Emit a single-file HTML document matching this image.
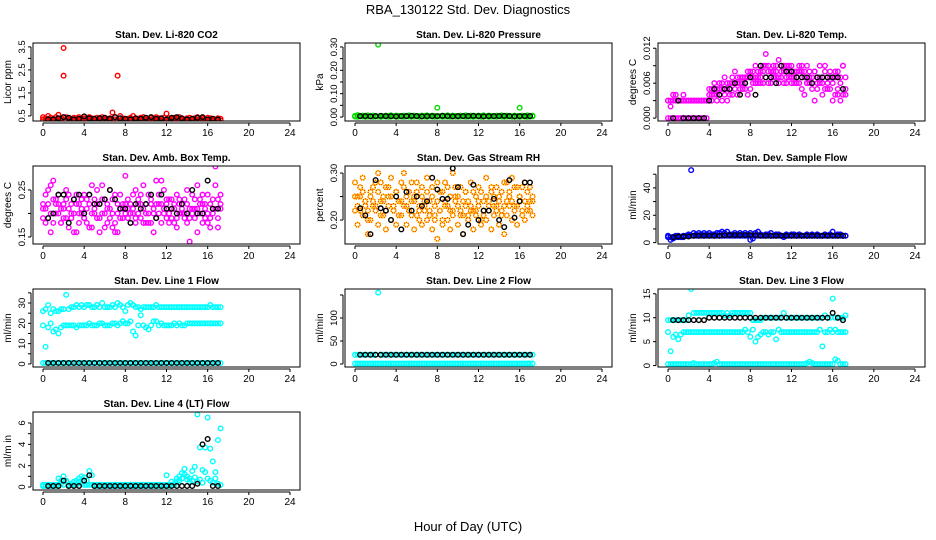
<!DOCTYPE html>
<html><head><meta charset="utf-8"><style>
html,body{margin:0;padding:0;background:#fff;}
svg{display:block;font-family:"Liberation Sans",Arial,sans-serif;}
</style></head><body>
<svg id="chart" width="936" height="540" viewBox="0 0 936 540">
<text x="468" y="14" text-anchor="middle" font-size="13">RBA_130122  Std. Dev. Diagnostics</text>
<text x="468" y="531" text-anchor="middle" font-size="13">Hour of Day (UTC)</text>
</svg>
<script>
const H=[0,0.25,0.5,0.75,1,1.25,1.5,1.75,2,2.25,2.5,2.75,3,3.25,3.5,3.75,4,4.25,4.5,4.75,5,5.25,5.5,5.75,6,6.25,6.5,6.75,7,7.25,7.5,7.75,8,8.25,8.5,8.75,9,9.25,9.5,9.75,10,10.25,10.5,10.75,11,11.25,11.5,11.75,12,12.25,12.5,12.75,13,13.25,13.5,13.75,14,14.25,14.5,14.75,15,15.25,15.5,15.75,16,16.25,16.5,16.75,17,17.25];
const HB=[0.5,1,1.5,2,2.5,3,3.5,4,4.5,5,5.5,6,6.5,7,7.5,8,8.5,9,9.5,10,10.5,11,11.5,12,12.5,13,13.5,14,14.5,15,15.5,16,16.5,17];
const xTicks=[0,4,8,12,16,20,24];

const co2A=[0.45,0.40,0.50,0.42,0.38,0.45,0.55,0.40,2.25,0.45,0.40,0.38,0.42,0.40,0.45,0.38,0.40,0.42,0.45,0.40,0.38,0.42,0.40,0.45,0.40,0.38,0.40,0.65,0.45,2.25,0.50,0.40,0.20,0.38,0.42,0.50,0.40,0.38,0.42,0.45,0.40,0.38,0.42,0.40,0.45,0.40,0.38,0.42,0.60,0.40,0.38,0.42,0.40,0.45,0.38,0.35,0.40,0.42,0.35,0.40,0.45,0.38,0.40,0.35,0.42,0.40,0.38,0.35,0.40,0.38];
const co2B=[0.35,0.32,0.35,0.30,0.33,0.35,0.30,0.32,3.45,0.33,0.30,0.35,0.32,0.30,0.33,0.35,0.30,0.32,0.33,0.35,0.30,0.33,0.32,0.35,0.30,0.33,0.32,0.30,0.35,0.33,0.30,0.32,0.35,0.30,0.33,0.32,0.35,0.30,0.33,0.32,0.30,0.35,0.32,0.30,0.33,0.35,0.30,0.32,0.33,0.30,0.35,0.32,0.30,0.33,0.35,0.30,0.32,0.30,0.33,0.35,0.30,0.32,0.33,0.30,0.35,0.32,0.30,0.33,0.32,0.30];
const co2K=[0.35,0.35,0.4,0.45,0.42,0.35,0.38,0.48,0.4,0.38,0.4,0.42,0.38,0.45,0.4,0.38,0.35,0.4,0.38,0.42,0.45,0.38,0.4,0.35,0.42,0.45,0.4,0.35,0.38,0.42,0.45,0.35,0.38,0.35];

const prA=[0.005,0.008,0.004,0.006,0.005,0.007,0.004,0.006,0.005,0.31,0.005,0.004,0.006,0.005,0.007,0.004,0.006,0.005,0.004,0.006,0.005,0.007,0.004,0.006,0.005,0.004,0.006,0.005,0.007,0.004,0.006,0.005,0.04,0.004,0.006,0.005,0.007,0.004,0.006,0.005,0.004,0.006,0.005,0.007,0.004,0.006,0.005,0.004,0.006,0.005,0.007,0.004,0.006,0.005,0.004,0.006,0.005,0.007,0.004,0.006,0.005,0.004,0.006,0.005,0.04,0.006,0.005,0.007,0.004,0.006];
const prB=[0.002,0.001,0.003,0.002,0.001,0.002,0.003,0.001,0.002,0.002,0.001,0.003,0.002,0.001,0.002,0.003,0.001,0.002,0.002,0.001,0.003,0.002,0.001,0.002,0.003,0.001,0.002,0.002,0.001,0.003,0.002,0.001,0.002,0.003,0.001,0.002,0.002,0.001,0.003,0.002,0.001,0.002,0.003,0.001,0.002,0.002,0.001,0.003,0.002,0.001,0.002,0.003,0.001,0.002,0.002,0.001,0.003,0.002,0.001,0.002,0.003,0.001,0.002,0.002,0.001,0.003,0.002,0.001,0.002,0.003];
const prK=[0.004,0.004,0.003,0.004,0.005,0.004,0.004,0.003,0.004,0.004,0.005,0.004,0.003,0.004,0.004,0.004,0.005,0.004,0.003,0.004,0.004,0.004,0.005,0.004,0.003,0.004,0.004,0.004,0.005,0.004,0.003,0.004,0.004,0.004];

const tp1=[0.003,0.003,0.004,0.003,0.003,0.003,0.004,0.003,0.003,0.003,0.003,0.003,0.003,0.003,0.003,0.003,0.005,0.004,0.005,0.004,0.005,0.006,0.005,0.005,0.006,0.007,0.006,0.006,0.007,0.006,0.007,0.008,0.008,0.007,0.007,0.008,0.008,0.009,0.009,0.008,0.008,0.008,0.009,0.010,0.008,0.009,0.009,0.008,0.009,0.008,0.008,0.009,0.008,0.008,0.009,0.008,0.007,0.008,0.007,0.009,0.007,0.008,0.007,0.008,0.007,0.007,0.008,0.006,0.009,0.007];
const tp2=[0,0,0.003,0,0,0,0,0,0,0,0,0,0,0,0,0,0.003,0.003,0.004,0.003,0.004,0.003,0.004,0.003,0.004,0.004,0.005,0.004,0.005,0.005,0.005,0.004,0.005,0.006,0.006,0.006,0.006,0.006,0.007,0.006,0.006,0.007,0.007,0.006,0.007,0.006,0.006,0.007,0.006,0.007,0.006,0.006,0.005,0.004,0.006,0.006,0.005,0.003,0.005,0.006,0.004,0.005,0.005,0.005,0.003,0.004,0.004,0.003,0.004,0.004];
const tp3=[0.003,0.002,0.003,0.004,0.003,0.003,0.003,0.003,0.003,0.003,0.003,0.003,0.003,0.003,0.003,0.003,0.004,0.005,0.006,0.005,0.006,0.005,0.007,0.006,0.005,0.006,0.008,0.007,0.006,0.007,0.006,0.007,0.007,0.008,0.009,0.007,0.007,0.008,0.011,0.009,0.007,0.009,0.008,0.007,0.009,0.008,0.007,0.009,0.007,0.006,0.007,0.008,0.009,0.007,0.006,0.007,0.006,0.008,0.006,0.007,0.006,0.009,0.006,0.007,0.006,0.008,0.005,0.007,0.009,0.005];
const tpK=[0,0.003,0,0,0,0,0,0.003,0.005,0.004,0.005,0.005,0.006,0.004,0.006,0.007,0.004,0.009,0.007,0.007,0.006,0.009,0.008,0.008,0.007,0.007,0.007,0.006,0.007,0.007,0.007,0.007,0.007,0.005];

const ab1=[0.22,0.24,0.19,0.26,0.27,0.23,0.20,0.18,0.22,0.25,0.21,0.19,0.23,0.16,0.22,0.20,0.24,0.18,0.22,0.26,0.21,0.25,0.19,0.23,0.17,0.22,0.25,0.20,0.18,0.22,0.24,0.21,0.28,0.19,0.22,0.20,0.25,0.23,0.19,0.21,0.18,0.24,0.22,0.16,0.27,0.20,0.22,0.25,0.19,0.23,0.21,0.18,0.24,0.20,0.22,0.19,0.25,0.14,0.21,0.23,0.26,0.20,0.22,0.19,0.24,0.17,0.21,0.26,0.23,0.24];
const ab2=[0.19,0.21,0.25,0.20,0.18,0.22,0.24,0.21,0.19,0.23,0.17,0.22,0.20,0.24,0.18,0.21,0.19,0.23,0.17,0.20,0.23,0.19,0.22,0.26,0.20,0.18,0.21,0.23,0.16,0.20,0.19,0.22,0.20,0.23,0.18,0.21,0.19,0.22,0.24,0.18,0.22,0.20,0.18,0.21,0.19,0.22,0.27,0.20,0.22,0.18,0.23,0.21,0.19,0.22,0.20,0.23,0.18,0.21,0.24,0.19,0.21,0.23,0.18,0.22,0.20,0.19,0.23,0.21,0.19,0.22];
const ab3=[0.21,0.18,0.22,0.16,0.23,0.20,0.22,0.18,0.21,0.19,0.24,0.20,0.16,0.22,0.20,0.23,0.19,0.21,0.24,0.17,0.20,0.22,0.16,0.20,0.23,0.21,0.19,0.17,0.24,0.16,0.21,0.19,0.22,0.21,0.20,0.24,0.18,0.20,0.22,0.26,0.20,0.18,0.23,0.20,0.22,0.24,0.18,0.21,0.23,0.20,0.19,0.22,0.17,0.23,0.21,0.20,0.22,0.19,0.20,0.21,0.16,0.22,0.24,0.21,0.18,0.22,0.20,0.30,0.17,0.21];
const abK=[0.19,0.20,0.24,0.24,0.18,0.23,0.24,0.20,0.24,0.22,0.22,0.23,0.25,0.23,0.21,0.21,0.18,0.22,0.21,0.22,0.24,0.19,0.24,0.21,0.21,0.20,0.22,0.20,0.25,0.20,0.20,0.27,0.21,0.21];

const rh1=[0.28,0.25,0.22,0.29,0.24,0.20,0.26,0.23,0.28,0.30,0.24,0.21,0.27,0.25,0.29,0.22,0.26,0.24,0.28,0.30,0.23,0.26,0.21,0.25,0.28,0.22,0.27,0.24,0.29,0.21,0.25,0.23,0.28,0.26,0.20,0.24,0.27,0.22,0.30,0.25,0.23,0.27,0.21,0.26,0.24,0.28,0.22,0.25,0.27,0.20,0.24,0.29,0.22,0.26,0.23,0.27,0.25,0.21,0.28,0.24,0.26,0.29,0.23,0.27,0.25,0.22,0.28,0.26,0.24,0.25];
const rh2=[0.22,0.19,0.25,0.21,0.23,0.17,0.20,0.24,0.22,0.19,0.21,0.25,0.18,0.23,0.20,0.22,0.19,0.24,0.21,0.23,0.19,0.22,0.24,0.18,0.21,0.23,0.19,0.22,0.20,0.24,0.18,0.21,0.16,0.22,0.19,0.23,0.20,0.18,0.22,0.24,0.19,0.21,0.17,0.23,0.20,0.22,0.18,0.21,0.23,0.19,0.22,0.20,0.24,0.18,0.21,0.23,0.19,0.22,0.17,0.21,0.23,0.20,0.22,0.19,0.24,0.21,0.20,0.23,0.22,0.21];
const rh3=[0.25,0.23,0.27,0.26,0.24,0.22,0.25,0.27,0.23,0.26,0.28,0.24,0.22,0.27,0.25,0.23,0.26,0.21,0.24,0.27,0.25,0.22,0.28,0.24,0.26,0.20,0.25,0.23,0.26,0.22,0.27,0.20,0.24,0.22,0.26,0.28,0.23,0.25,0.21,0.27,0.25,0.22,0.24,0.26,0.21,0.23,0.26,0.22,0.24,0.26,0.21,0.25,0.23,0.27,0.25,0.22,0.24,0.26,0.23,0.28,0.25,0.24,0.27,0.23,0.25,0.27,0.24,0.22,0.27,0.24];
const rhK=[0.225,0.21,0.17,0.285,0.225,0.22,0.20,0.25,0.18,0.26,0.22,0.25,0.23,0.24,0.29,0.265,0.245,0.245,0.31,0.27,0.17,0.19,0.275,0.20,0.22,0.22,0.245,0.20,0.185,0.285,0.205,0.24,0.28,0.28];

const sf1=[5,4,3,5,5,4,5,5,6,53,7,6,7,6,7,6,7,6,6,7,7,8,7,8,6,6,7,6,7,6,7,6,7,3,7,8,6,5,6,6,7,5,6,6,5,4,6,5,6,6,5,6,5,5,6,5,6,5,6,5,5,6,5,6,8,5,6,6,5,5];
const sf2=[4,2,4,4,4,4,4,5,5,5,5,5,5,5,5,5,5,5,5,5,5,5,5,5,5,5,5,5,5,5,5,5,2,5,5,5,5,5,5,5,5,5,5,5,5,5,5,5,5,5,5,5,5,5,5,5,5,5,5,5,5,5,5,5,5,5,5,5,5,5];
const sfK=[4,4.5,4.5,4.5,5,5,5,5,5,5,5.5,5.5,5.5,5.5,5.5,5.5,5.5,5,5,5,5,5,5,5,5,5,5,5,5,5,5,5,5,5];

const l1a=[26,27,29,25,27,26,26,27,27,34,27,28,28,29,28,29,28,29,29,28,28,29,28,30,28,28,28,29,28,30,29,28,26,29,30,29,28,28,27,28,28,28,28,28,29,28,28,28,28,28,28,28,28,28,28,28,28,28,28,28,28,28,28,28,28,29,28,28,28,28];
const l1b=[19,8.5,18,20,16,17,15,18,19,19,19,19,19,18,19,19,19,19,20,19,19,19,20,20,19,19,19,20,20,19,20,21,20,20,21,16,14,19,24,19,18,17,19,21,21,19,20,19,19,19,19,20,19,20,19,19,20,20,20,20,20,20,20,20,20,20,20,20,20,20];
const l1c=[0.5,0.5,0.5,0.5,0.5,0.5,0.5,0.5,0.5,0.5,0.5,0.5,0.5,0.5,0.5,0.5,0.5,0.5,0.5,0.5,0.5,0.5,0.5,0.5,0.5,0.5,0.5,0.5,0.5,0.5,0.5,0.5,0.5,0.5,0.5,0.5,0.5,0.5,0.5,0.5,0.5,0.5,0.5,0.5,0.5,0.5,0.5,0.5,0.5,0.5,0.5,0.5,0.5,0.5,0.5,0.5,0.5,0.5,0.5,0.5,0.5,0.5,0.5,0.5,0.5,0.5,0.5,0.5,0.5,0.5];
const l1K=[0.5,0.5,0.5,0.5,0.5,0.5,0.5,0.5,0.5,0.5,0.5,0.5,0.5,0.5,0.5,0.5,0.5,0.5,0.5,0.5,0.5,0.5,0.5,0.5,0.5,0.5,0.5,0.5,0.5,0.5,0.5,0.5,0.5,0.5];

const l2a=[20,20,20,20,20,20,20,20,20,155,20,20,20,20,20,20,20,20,20,20,20,20,20,20,20,20,20,20,20,20,20,20,20,20,20,20,20,20,20,20,20,20,20,20,20,20,20,20,20,20,20,20,20,20,20,20,20,20,20,20,20,20,20,20,20,20,20,20,20,20];
const l2b=[1,1,1,1,1,1,1,1,1,1,1,1,1,1,1,1,1,1,1,1,1,1,1,1,1,1,1,1,1,1,1,1,1,1,1,1,1,1,1,1,1,1,1,1,1,1,1,1,1,1,1,1,1,1,1,1,1,1,1,1,1,1,1,1,1,1,1,1,1,1];
const l2K=[20,20,20,20,20,20,20,20,20,20,20,20,20,20,20,20,20,20,20,20,20,20,20,20,20,20,20,20,20,20,20,20,20,20];

const l3a=[9.5,9.5,9.5,9.5,9.5,9.5,9.5,9.5,10.5,16,11,11,11,11,11,11,11,11,11,11,11,11,10.5,11,10.5,11,11,11,11,11,11,11,11,9.5,9.5,9.5,9.5,10,10,10,10,10,10,10,10,11,10,10,10,10,10,10,10,10,10,10,10,10,10,10,10,10.5,10,10,14,10,10,10,10,10.5];
const l3b=[7,3,6,6.5,5.5,6.5,7,7,7,7,7,7,7,7,7,7,7,7,7,7,7,7,7,7,7,7,7,7,7,7,7.5,7,6,7.5,5,6,6.5,7,7,6.5,7,7,5.5,7.5,7,7,7,7,7,7,7,7,7,7,7,7,7,7,7,7.5,4,7,7,7.5,7,7.5,7,7,7,7];
const l3c=[0.3,0.3,0.3,0.3,0.3,0.3,0.3,0.3,0.3,0.3,0.5,0.3,0.3,0.3,0.3,0.3,0.3,0.3,0.5,0.8,0.3,0.3,0.3,0.3,0.3,0.3,0.3,0.3,0.3,0.3,0.3,0.3,0.3,0.3,0.3,0.3,0.3,0.3,0.3,0.3,0.3,0.3,0.3,0.3,0.3,0.3,0.3,0.3,0.3,0.3,0.3,0.3,0.3,0.3,0.5,0.8,0.5,0.3,0.3,0.3,0.3,0.3,0.3,0.3,0.3,1.3,1.0,0.3,0.3,0.3];
const l3K=[9.5,9.5,9.5,9.5,9.5,9.5,9.5,10,10,10,10,10,10,10,10,10,10,10,10,10,10,10,10,10,10,10,10,10,10,10,10,11,10,9.5];

const l4a=[0.1,0.1,0.1,0.1,0.1,0.1,0.8,0.6,1.0,0.6,0.2,0.3,0.5,0.6,0.8,1.0,0.9,0.6,1.5,1.1,0.1,0.1,0.1,0.1,0.1,0.1,0.1,0.1,0.1,0.1,0.1,0.1,0.1,0.1,0.1,0.1,0.1,0.1,0.1,0.1,0.1,0.1,0.1,0.1,0.1,0.1,0.1,0.1,1.1,0.1,0.5,0.3,0.8,1.0,1.3,1.7,1.0,0.8,1.5,1.9,6.8,3.7,1.6,3.7,6.5,3.6,2.4,1.4,4.4,5.5];
const l4b=[0.2,0.2,0.2,0.2,0.2,0.2,0.2,0.3,0.2,0.5,0.2,0.2,0.2,0.2,0.5,0.3,0.2,0.2,0.2,0.2,0.2,0.2,0.2,0.2,0.2,0.2,0.2,0.2,0.2,0.2,0.2,0.2,0.2,0.2,0.2,0.2,0.2,0.2,0.2,0.2,0.2,0.2,0.2,0.2,0.2,0.2,0.2,0.2,0.2,0.2,0.2,0.2,0.5,0.6,0.8,1.2,0.7,0.5,0.6,0.9,0.5,0.7,0.4,1.4,0.8,0.6,0.4,0.8,0.3,0.2];
const l4K=[0.1,0.1,0.1,0.6,0.1,0.1,0.1,0.6,1.1,0.1,0.1,0.1,0.1,0.1,0.1,0.1,0.1,0.1,0.1,0.1,0.1,0.1,0.1,0.1,0.1,0.1,0.1,0.1,0.1,0.3,4.0,4.5,0.1,0.1];

const svg=document.getElementById('chart');
const NS='http://www.w3.org/2000/svg';
function mk(tag,attrs,parent){const e=document.createElementNS(NS,tag);for(const k in attrs)e.setAttribute(k,attrs[k]);(parent||svg).appendChild(e);return e;}

const colLeft=[33,345,658], rowTop=[43,166,289,412], PW=267, PH=78;
const R=2.3, SW=1.4;

const panels=[
 {name:'co2',title:'Stan. Dev. Li-820 CO2',ylab:'Licor ppm',col:0,row:0,ymin:0.28,ymax:3.67,ticks:[0.5,1,1.5,2,2.5,3,3.5],labels:['0.5','1.5','2.5','3.5'],labelAt:[0.5,1.5,2.5,3.5],series:[[co2B,'#ff0000'],[co2A,'#ff0000']],black:co2K},
 {name:'pressure',title:'Stan. Dev. Li-820 Pressure',ylab:'kPa',col:1,row:0,ymin:-0.017,ymax:0.317,ticks:[0,0.05,0.1,0.15,0.2,0.25,0.3],labels:['0.00','0.10','0.20','0.30'],labelAt:[0,0.1,0.2,0.3],series:[[prB,'#00dd00'],[prA,'#00dd00']],black:prK},
 {name:'temp',title:'Stan. Dev. Li-820 Temp.',ylab:'degrees C',col:2,row:0,ymin:-0.0005,ymax:0.0129,ticks:[0,0.003,0.006,0.009,0.012],labels:['0.000','0.006','0.012'],labelAt:[0,0.006,0.012],series:[[tp2,'#ff00ff'],[tp3,'#ff00ff'],[tp1,'#ff00ff']],black:tpK},
 {name:'ambbox',title:'Stan. Dev. Amb. Box Temp.',ylab:'degrees C',col:0,row:1,ymin:0.135,ymax:0.301,ticks:[0.15,0.2,0.25],labels:['0.15','0.25'],labelAt:[0.15,0.25],series:[[ab1,'#ff00ff'],[ab2,'#ff00ff'],[ab3,'#ff00ff']],black:abK},
 {name:'rh',title:'Stan. Dev. Gas Stream RH',ylab:'percent',col:1,row:1,ymin:0.149,ymax:0.315,ticks:[0.2,0.25,0.3],labels:['0.20','0.30'],labelAt:[0.2,0.3],series:[[rh1,'rh'],[rh2,'rh'],[rh3,'rh']],black:rhK},
 {name:'sampleflow',title:'Stan. Dev. Sample Flow',ylab:'ml/min',col:2,row:1,ymin:-1,ymax:56,ticks:[0,10,20,30,40,50],labels:['0','20','40'],labelAt:[0,20,40],series:[[sf2,'#0000ff'],[sf1,'#0000ff']],black:sfK},
 {name:'line1',title:'Stan. Dev. Line 1 Flow',ylab:'ml/min',col:0,row:2,ymin:-1.5,ymax:36.9,ticks:[0,5,10,15,20,25,30,35],labels:['0','10','20','30'],labelAt:[0,10,20,30],series:[[l1c,'#00ffff'],[l1b,'#00ffff'],[l1a,'#00ffff']],black:l1K},
 {name:'line2',title:'Stan. Dev. Line 2 Flow',ylab:'ml/min',col:1,row:2,ymin:-6.5,ymax:163,ticks:[0,50,100,150],labels:['0','50','100'],labelAt:[0,50,100],series:[[l2b,'#00ffff'],[l2a,'#00ffff']],black:l2K},
 {name:'line3',title:'Stan. Dev. Line 3 Flow',ylab:'ml/min',col:2,row:2,ymin:-0.3,ymax:16,ticks:[0,5,10,15],labels:['0','5','10','15'],labelAt:[0,5,10,15],series:[[l3c,'#00ffff'],[l3b,'#00ffff'],[l3a,'#00ffff']],black:l3K},
 {name:'line4',title:'Stan. Dev. Line 4 (LT) Flow',ylab:'ml/m in',col:0,row:3,ymin:-0.28,ymax:7.03,ticks:[0,1,2,3,4,5,6],labels:['0','2','4','6'],labelAt:[0,2,4,6],series:[[l4b,'#00ffff'],[l4a,'#00ffff']],black:l4K}
];

panels.forEach(p=>{
  const L=colLeft[p.col], T=rowTop[p.row];
  const xs=h=>L+10+h*(PW-20)/24;
  const ys=v=>T+PH-(v-p.ymin)/(p.ymax-p.ymin)*PH;
  const g=mk('g',{});
  
  
  const t=mk('text',{x:L+PW/2,y:T-5,'text-anchor':'middle','font-size':'10','font-weight':'bold'},g);
  t.textContent=p.title;
  
  
  const clip='clip-'+p.name;
  const cp=mk('clipPath',{id:clip},g);
  mk('rect',{x:L,y:T,width:PW,height:PH},cp);
  const pts=mk('g',{'clip-path':'url(#'+clip+')'},g);
  p.series.forEach(([arr,color])=>{
    arr.forEach((v,i)=>{
      if(color==='rh'){
        const c=mk('circle',{cx:xs(H[i]),cy:ys(v),r:R,fill:'none',stroke:'#ffee00','stroke-width':SW},pts);
        
        
        mk('circle',{cx:xs(H[i]),cy:ys(v),r:R,fill:'none',stroke:'#ff3300','stroke-width':SW,'stroke-dasharray':'1,1'},pts);
      } else {
        const c=mk('circle',{cx:xs(H[i]),cy:ys(v),r:R,fill:'none',stroke:color,'stroke-width':SW},pts);
        
        
      }
    });
  });
  p.black.forEach((v,i)=>{
    const c=mk('circle',{cx:xs(HB[i]),cy:ys(v),r:R,fill:'none',stroke:'#000','stroke-width':SW},pts);
    
    
  });
  const box=mk('rect',{x:L,y:T,width:PW,height:PH,fill:'none',stroke:'#000','stroke-width':1},g);
  
  
  const xa=mk('g',{},g);
  
  
  mk('line',{x1:xs(0),x2:xs(24),y1:T+PH+2,y2:T+PH+2,stroke:'#000'},xa);
  xTicks.forEach(h=>{
    mk('line',{x1:xs(h),x2:xs(h),y1:T+PH+2,y2:T+PH+5,stroke:'#000'},xa);
    const tl=mk('text',{x:xs(h),y:T+PH+15,'text-anchor':'middle','font-size':'10'},xa);
    tl.textContent=h;
  });
  const ya=mk('g',{},g);
  
  
  const y0=ys(p.ticks[0]), y1=ys(p.ticks[p.ticks.length-1]);
  mk('line',{x1:L-2,x2:L-2,y1:y0,y2:y1,stroke:'#000'},ya);
  p.ticks.forEach(v=>mk('line',{x1:L-5,x2:L-2,y1:ys(v),y2:ys(v),stroke:'#000'},ya));
  p.labels.forEach((s,i)=>{
    const yy=ys(p.labelAt[i]);
    const tl=mk('text',{x:L-8,y:yy,'text-anchor':'middle','font-size':'9.5',transform:'rotate(-90 '+(L-8)+' '+yy+')'},ya);
    tl.textContent=s;
  });
  const yt=mk('text',{x:L-22,y:T+PH/2,'text-anchor':'middle','font-size':'10',transform:'rotate(-90 '+(L-22)+' '+(T+PH/2)+')'},g);
  yt.textContent=p.ylab;
  
  
});
</script>
</body></html>
